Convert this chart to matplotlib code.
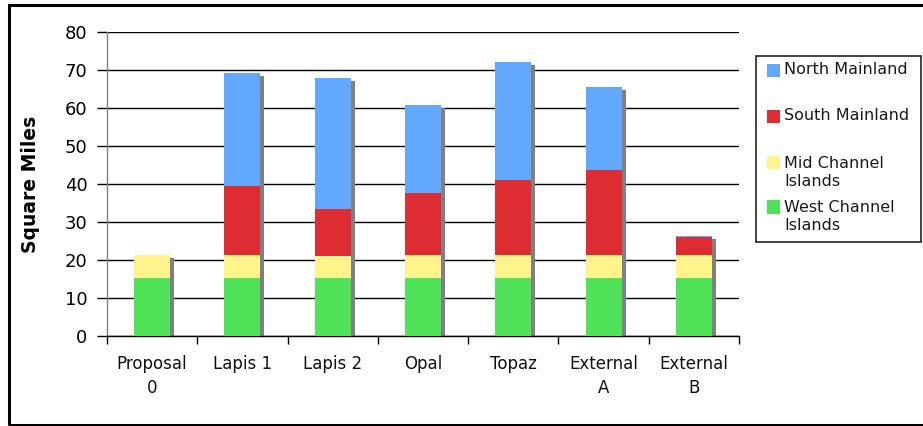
import matplotlib
matplotlib.use("Agg")
import matplotlib.pyplot as plt
import matplotlib.transforms as mtransforms
from matplotlib.patches import Rectangle
import numpy as np

categories = ["Proposal\n0", "Lapis 1", "Lapis 2", "Opal", "Topaz", "External\nA", "External\nB"]
west_channel = [15.3, 15.3, 15.3, 15.3, 15.3, 15.3, 15.3]
mid_channel = [6.0, 6.0, 5.8, 6.0, 6.0, 6.0, 6.0]
south_mainland = [0.0, 18.2, 12.2, 16.3, 19.8, 22.4, 4.7]
north_mainland = [0.0, 29.7, 34.7, 23.2, 31.0, 21.8, 0.3]
series_names = ["West Channel\nIslands", "Mid Channel\nIslands", "South Mainland", "North Mainland"]
colors = ["#50E258", "#FFF48C", "#DD2C32", "#63A8FF"]

W, H = 923, 426
fig = plt.figure(figsize=(W / 100, H / 100), dpi=100)
ax = fig.add_axes([107 / W, 90 / H, 632 / W, 304 / H])

x = np.arange(len(categories))
series = [west_channel, mid_channel, south_mainland, north_mainland]
totals = np.sum(series, axis=0)

# shadow
shadow_tr = mtransforms.offset_copy(ax.transData, fig=fig, x=4, y=-3, units="dots")
ax.bar(x, totals, width=0.4, bottom=0, color="#808080", transform=shadow_tr,
       zorder=2, linewidth=0)

bottom = np.zeros(len(categories))
for vals, col in zip(series, colors):
    ax.bar(x, vals, width=0.4, bottom=bottom, color=col, zorder=3, linewidth=0)
    bottom += np.array(vals)

ax.set_xlim(-0.5, len(categories) - 0.5)
ax.set_ylim(0, 80)
ax.set_yticks(range(0, 81, 10))
ax.yaxis.grid(True, color="black", linewidth=1.0)
ax.set_axisbelow(True)

ax.set_xticks(x)
ax.set_xticklabels(categories, fontsize=12, linespacing=1.4, color="#111111")
ax.set_xticks(np.arange(-0.5, len(categories), 1.0), minor=True)
ax.tick_params(axis="x", which="major", length=0, pad=14)
ax.tick_params(axis="x", which="minor", length=6, width=1, color="black")
ax.tick_params(axis="y", length=7, width=1, color="black", pad=7, labelsize=13)

for s in ["top", "right"]:
    ax.spines[s].set_visible(False)
ax.spines["left"].set_color("#808080")
ax.spines["left"].set_linewidth(1)
ax.spines["bottom"].set_color("black")
ax.spines["bottom"].set_linewidth(1)

ax.set_ylabel("Square Miles", fontsize=13.5, fontweight="bold", labelpad=18)

# legend box (manual)
def fx(px):
    return px / W

def fy(py):
    return (H - py) / H

fig.patches.append(Rectangle((fx(756), fy(242)), fx(921) - fx(756), fy(56) - fy(242),
                             transform=fig.transFigure, fill=False, edgecolor="#222222",
                             linewidth=1.2, zorder=5))
leg_items = [(3, 70), (2, 116), (1, 172), (0, 217)]
for idx, cy in leg_items:
    sq_top = cy - 6.5 if "\n" not in series_names[idx] else cy - 16.5
    fig.patches.append(Rectangle((fx(767), fy(sq_top + 13)), 13 / W, 13 / H,
                                 transform=fig.transFigure, facecolor=colors[idx],
                                 edgecolor="none", zorder=6))
    fig.text(fx(784), fy(cy), series_names[idx], fontsize=11.5, va="center", ha="left",
             linespacing=1.25, color="#1a1a1a")

# outer border
fig.patches.append(Rectangle((fx(9), fy(424.5)), 2.0, fy(5) - fy(424.5),
                             transform=fig.transFigure, fill=False, edgecolor="black",
                             linewidth=2.2, zorder=10))

fig.savefig("out.png", dpi=100)
